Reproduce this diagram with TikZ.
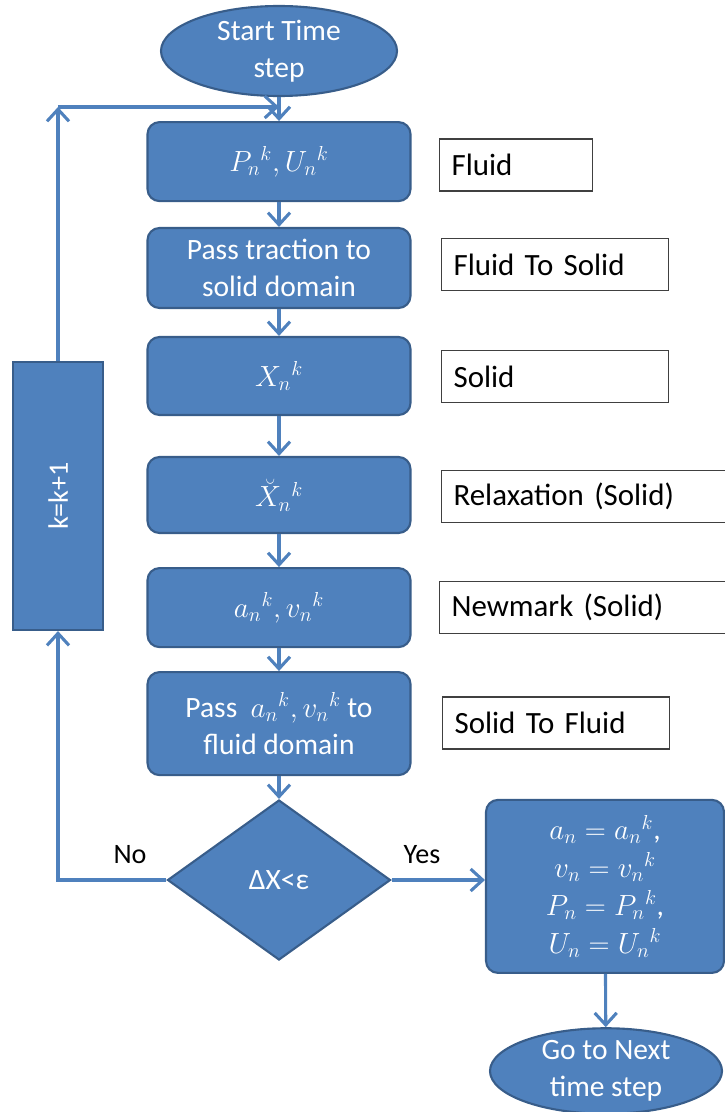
\documentclass[tikz,border=0pt]{standalone}
\usepackage{fontspec}
\setmainfont{Carlito}
\usepackage{amsmath}
\usepackage{amssymb}
\usetikzlibrary{arrows.meta, shapes.geometric, positioning}
\definecolor{boxblue}{HTML}{4F81BD}
\definecolor{boxedge}{HTML}{385D8A}

\begin{document}
\begin{tikzpicture}[
	stepbox/.style={draw=boxedge, line width=1.5pt, fill=boxblue, rounded corners=0.3cm, text=white, align=center, minimum width=6.575cm, font=\fontsize{21}{26}\selectfont},
	term/.style={ellipse, draw=boxedge, line width=1.5pt, fill=boxblue, text=white, align=center, inner sep=0pt, font=\fontsize{21}{26}\selectfont},
	test/.style={diamond, draw=boxedge, line width=1.5pt, fill=boxblue, text=white, inner sep=0pt, font=\fontsize{21}{26}\selectfont},
	loopbox/.style={draw=boxedge, line width=1.5pt, fill=boxblue, text=white, rotate=90, font=\fontsize{20}{24}\selectfont},
	tag/.style={draw=black!75, line width=0.8pt, anchor=west, align=left, text width=#1, inner xsep=0.3cm, minimum height=1.3cm, font=\fontsize{22}{26}\selectfont},
	flow/.style={draw=boxblue, line width=2.2pt, -{Straight Barb[length=3mm,width=5.5mm]}}
]
	\useasboundingbox (0,0) rectangle (18.1,-27.8);

	\node[term, minimum width=5.9cm, minimum height=2.25cm]		(start)		at (6.975,-1.275)	{Start Time\\step};
	\node[stepbox, minimum height=1.975cm]	(fluidstep)	at (6.975,-4.04)	{$P_n{}^k, U_n{}^k$};
	\node[stepbox, minimum height=2cm]		(traction)	at (6.975,-6.7)		{Pass traction to\\solid domain};
	\node[stepbox, minimum height=1.95cm]	(solidstep)	at (6.975,-9.4)		{$X_n{}^k$};
	\node[stepbox, minimum height=1.9cm]	(relax)		at (6.975,-12.375)	{$\breve{X}_n{}^k$};
	\node[stepbox, minimum height=1.975cm]	(newmark)	at (6.975,-15.19)	{$a_n{}^k, v_n{}^k$};
	\node[stepbox, minimum height=2.575cm]	(transfer)	at (6.975,-18.09)	{Pass \ $a_n{}^k, v_n{}^k$ to\\fluid domain};
	\node[test, minimum width=5.575cm, minimum height=4cm]	(check)	at (6.975,-22.0)	{ΔX<ε};

	\draw[flow] (start) -- (fluidstep);
	\draw[flow] (fluidstep) -- (traction);
	\draw[flow] (traction) -- (solidstep);
	\draw[flow] (solidstep) -- (relax);
	\draw[flow] (relax) -- (newmark);
	\draw[flow] (newmark) -- (transfer);
	\draw[flow] (transfer) -- (check);

	%converged
	\node[stepbox, minimum width=5.95cm, minimum height=4.325cm, font=\fontsize{21}{27}\selectfont]	(update)	at (15.125,-22.16)
		{$a_n = a_n{}^k$,\\ $v_n = v_n{}^k$\\ $P_n = P_n{}^k$,\\ $U_n = U_n{}^k$};
	\node[term, minimum width=5.8cm, minimum height=2cm]	(finish)	at (15.15,-26.775)	{Go to Next\\time step};
	\node[font=\fontsize{20}{24}\selectfont]	(yes)	at (10.55,-21.375)	{Yes};

	\draw[flow] (check.east) -- (check.east -| update.west);
	\draw[flow] (update) -- (finish);

	%iteration loop
	\node[loopbox, minimum width=6.7cm, minimum height=2.25cm]	(counter)	at (1.45,-12.4)	{k=k+1};
	\node[font=\fontsize{20}{24}\selectfont]	(no)	at (3.25,-21.375)	{No};
	\coordinate (noCorner)	at (1.45,-22.0);
	\coordinate (topCorner)	at (1.45,-2.675);

	\draw[flow] (check.west) -- (noCorner) -- (counter.west);
	\draw[flow] (counter.east) -- (topCorner);
	\draw[flow] (topCorner) -- (topCorner -| fluidstep.north);

	%labels on the right
	\node[tag=3.225cm]	(fluidtag)		at (10.975,-4.125)	{Fluid};
	\node[tag=5.075cm]	(f2stag)		at (11.025,-6.61)	{Fluid To Solid};
	\node[tag=5.075cm]	(solidtag)		at (11.025,-9.41)	{Solid};
	\node[tag=6.6cm]	(relaxtag)		at (11.025,-12.41)	{Relaxation (Solid)};
	\node[tag=6.6cm]	(newmarktag)	at (10.975,-15.19)	{Newmark (Solid)};
	\node[tag=5.075cm]	(s2ftag)		at (11.05,-18.075)	{Solid To Fluid};
\end{tikzpicture}
\end{document}
